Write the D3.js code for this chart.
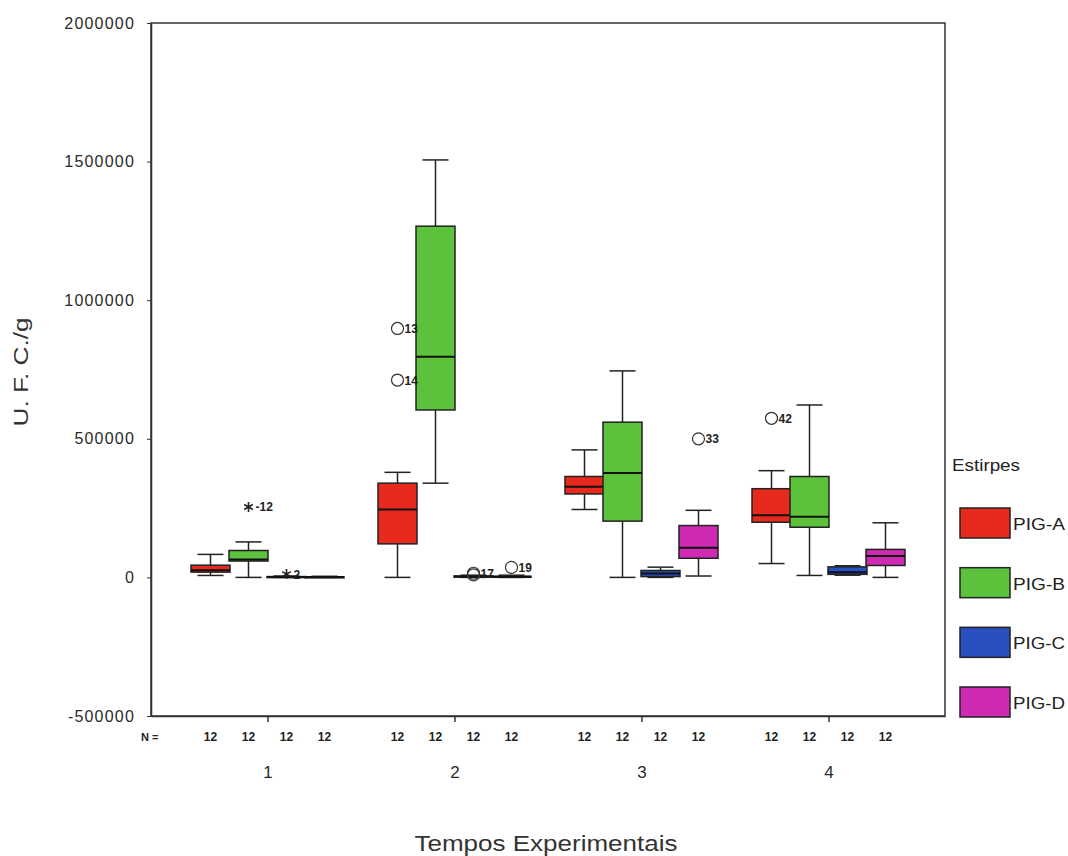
<!DOCTYPE html>
<html>
<head>
<meta charset="utf-8">
<script src="https://cdn.jsdelivr.net/npm/d3@7"></script>
<style>
  body { margin: 0; background: #fff; }
  text { font-family: "Liberation Sans", Arial, sans-serif; fill: #222; }
</style>
</head>
<body>
<script>
// categories
const times = ["1", "2", "3", "4"];
const strains = ["PIG-A", "PIG-B", "PIG-C", "PIG-D"];
const strainColors = ["#e8291e", "#5cc23c", "#2a4fbe", "#d02ab2"];
const yTicks = [-500000, 0, 500000, 1000000, 1500000, 2000000];
const nCounts = [12, 12, 12, 12];

// [lower whisker, q1, median, q3, upper whisker] per time
const statsPigA = [[7000, 19000, 26000, 44000, 83000], [0, 121000, 245000, 340000, 379000], [245000, 301000, 327000, 364000, 460000], [50000, 199000, 224000, 320000, 385000]];
const statsPigB = [[0, 59000, 65000, 97000, 128000], [340000, 604000, 796000, 1267000, 1506000], [0, 203000, 377000, 560000, 745000], [7000, 181000, 219000, 364000, 622000]];
const statsPigC = [[0, 0, 1000, 3000, 5000], [0, 1000, 3000, 5000, 8000], [0, 3000, 14000, 25000, 37000], [8000, 11000, 19000, 38000, 42000]];
const statsPigD = [[0, 0, 1000, 2000, 4000], [0, 1000, 2000, 4000, 8000], [5000, 69000, 107000, 187000, 242000], [0, 43000, 77000, 101000, 197000]];

// outliers: time, strain, value, case label, kind
const outlierTimes = ["1", "1", "2", "2", "2", "2", "2", "3", "4"];
const outlierStrains = ["PIG-B", "PIG-C", "PIG-A", "PIG-A", "PIG-C", "PIG-C", "PIG-D", "PIG-D", "PIG-A"];
const outlierValues = [254000, 12000, 898000, 712000, 9000, 15000, 36000, 500000, 574000];
const outlierLabels = ["-12", "2", "13", "14", "", "17", "19", "33", "42"];
const outlierKinds = ["extreme", "extreme", "out", "out", "out", "out", "out", "out", "out"];

const allStats = [statsPigA, statsPigB, statsPigC, statsPigD];

const W = 1068, H = 856;
const plotLeft = 151, plotRight = 945, plotTop = 23, plotBottom = 716;

const svg = d3.select("body").append("svg")
    .attr("width", W)
    .attr("height", H);

const y = d3.scaleLinear().domain([-500000, 2000000]).range([plotBottom, plotTop]);
const x0 = d3.scalePoint().domain(times).range([plotLeft, plotRight]).padding(0.623);
const x1 = d3.scaleBand().domain(strains).range([-76, 76]);
const color = d3.scaleOrdinal().domain(strains).range(strainColors);
const cx = (t, s) => x0(t) + x1(s) + x1.bandwidth() / 2;

// frame
svg.append("rect")
    .attr("x", plotLeft).attr("y", plotTop)
    .attr("width", plotRight - plotLeft).attr("height", plotBottom - plotTop)
    .style("fill", "none").style("stroke", "#333").style("stroke-width", 1.5);

// y axis
const yAxis = svg.append("g")
    .attr("transform", `translate(${plotLeft},0)`)
    .call(d3.axisLeft(y).tickValues(yTicks).tickFormat(d => String(d)).tickSize(4).tickSizeOuter(0).tickPadding(12));
yAxis.select(".domain").style("stroke", "#333").style("stroke-width", 1.5);
yAxis.selectAll(".tick line").style("stroke", "#333");
yAxis.selectAll(".tick text")
    .style("font-size", "16px")
    .style("letter-spacing", "1.2px")
    .style("fill", "#2a2a2a");

// x axis
const xAxis = svg.append("g")
    .attr("transform", `translate(0,${plotBottom})`)
    .call(d3.axisBottom(x0).tickSize(6).tickSizeOuter(0).tickPadding(44));
xAxis.select(".domain").style("stroke", "#333").style("stroke-width", 1.5);
xAxis.selectAll(".tick line").style("stroke", "#333").style("stroke-width", 1.5);
xAxis.selectAll(".tick text").style("font-size", "17px").style("fill", "#2a2a2a");

// N row
svg.append("text")
    .attr("x", 141).attr("y", 741)
    .style("font-size", "11px").style("font-weight", "bold")
    .text("N =");
times.forEach((t, ti) => {
  svg.append("g").selectAll("text")
    .data(strains)
    .join("text")
    .attr("x", s => cx(t, s))
    .attr("y", 741)
    .attr("text-anchor", "middle")
    .style("font-size", "12px").style("font-weight", "bold")
    .text(() => nCounts[ti]);
});

// boxes
const boxW = 39, capW = 26;
strains.forEach((s, si) => {
  const g = svg.append("g").attr("class", "strain");
  allStats[si].forEach((st, ti) => {
    const t = times[ti];
    const c = cx(t, s);
    const [lo, q1, med, q3, hi] = st;
    // whiskers
    g.append("line").attr("x1", c).attr("x2", c).attr("y1", y(hi)).attr("y2", y(q3))
        .style("stroke", "#222").style("stroke-width", 1.5);
    g.append("line").attr("x1", c).attr("x2", c).attr("y1", y(q1)).attr("y2", y(lo))
        .style("stroke", "#222").style("stroke-width", 1.5);
    g.append("line").attr("x1", c - capW / 2).attr("x2", c + capW / 2).attr("y1", y(hi)).attr("y2", y(hi))
        .style("stroke", "#222").style("stroke-width", 1.5);
    g.append("line").attr("x1", c - capW / 2).attr("x2", c + capW / 2).attr("y1", y(lo)).attr("y2", y(lo))
        .style("stroke", "#222").style("stroke-width", 1.5);
    // box
    g.append("rect")
        .attr("x", c - boxW / 2).attr("y", y(q3))
        .attr("width", boxW).attr("height", Math.max(1, y(q1) - y(q3)))
        .style("fill", color(s)).style("stroke", "#222").style("stroke-width", 1.5);
    // median
    g.append("line").attr("x1", c - boxW / 2).attr("x2", c + boxW / 2).attr("y1", y(med)).attr("y2", y(med))
        .style("stroke", "#111").style("stroke-width", 2);
  });
});

// outliers
const outG = svg.append("g").attr("class", "outliers");
outlierValues.forEach((v, i) => {
  const px = cx(outlierTimes[i], outlierStrains[i]);
  const py = y(v);
  if (outlierKinds[i] === "extreme") {
    outG.append("path")
        .attr("transform", `translate(${px},${py})`)
        .attr("d", d3.symbol(d3.symbolAsterisk, 70)())
        .style("fill", "none").style("stroke", "#222").style("stroke-width", 1.6);
  } else {
    outG.append("circle")
        .attr("cx", px).attr("cy", py).attr("r", 6)
        .style("fill", "none").style("stroke", "#333").style("stroke-width", 1.2);
  }
  outG.append("text")
      .attr("x", px + 7).attr("y", py + 4.5)
      .style("font-size", "12px").style("font-weight", "bold")
      .text(outlierLabels[i]);
});

// axis titles
svg.append("text")
    .attr("transform", "translate(28,372) rotate(-90)")
    .attr("text-anchor", "middle")
    .attr("textLength", 109).attr("lengthAdjust", "spacingAndGlyphs")
    .style("font-size", "21px")
    .style("fill", "#333")
    .text("U. F. C./g");
svg.append("text")
    .attr("x", 546).attr("y", 851)
    .attr("text-anchor", "middle")
    .attr("textLength", 263).attr("lengthAdjust", "spacingAndGlyphs")
    .style("font-size", "22px")
    .style("fill", "#333")
    .text("Tempos Experimentais");

// legend
const legend = svg.append("g").attr("class", "legend");
legend.append("text")
    .attr("x", 952).attr("y", 471)
    .attr("textLength", 68).attr("lengthAdjust", "spacingAndGlyphs")
    .style("font-size", "16px")
    .text("Estirpes");
const ly = d3.scalePoint().domain(strains).range([508, 687]);
legend.selectAll("rect")
    .data(strains)
    .join("rect")
    .attr("x", 960).attr("y", s => ly(s))
    .attr("width", 50).attr("height", 30)
    .style("fill", s => color(s)).style("stroke", "#222").style("stroke-width", 1.5);
legend.selectAll("text.lab")
    .data(strains)
    .join("text")
    .attr("class", "lab")
    .attr("x", 1013).attr("y", s => ly(s) + 22)
    .attr("textLength", 52).attr("lengthAdjust", "spacingAndGlyphs")
    .style("font-size", "17px")
    .text(s => s);
</script>
</body>
</html>
